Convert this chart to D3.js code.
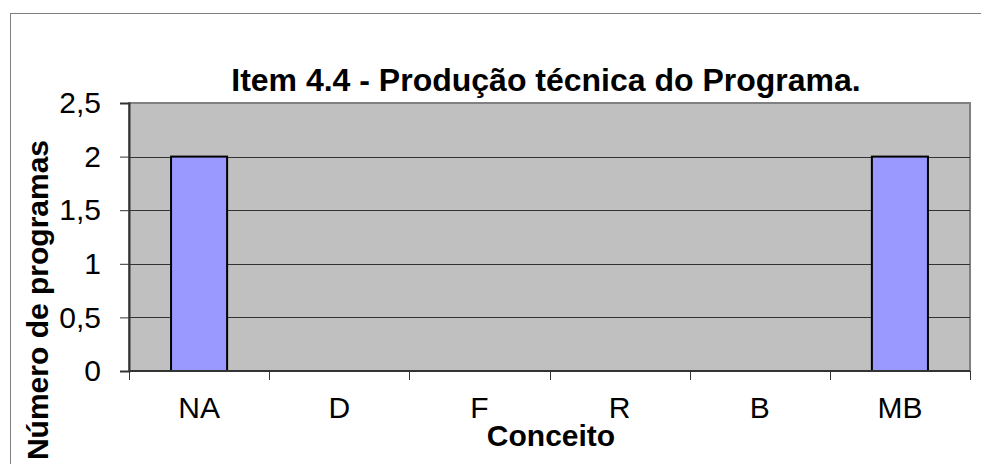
<!DOCTYPE html>
<html>
<head>
<meta charset="utf-8">
<script src="https://cdn.jsdelivr.net/npm/d3@7"></script>
<style>
  html, body { margin: 0; padding: 0; background: #fff; }
  svg { display: block; font-family: Arial, "Liberation Sans", sans-serif; }
</style>
</head>
<body>
<div id="chart"></div>
<script>
// data
const categories = ['NA', 'D', 'F', 'R', 'B', 'MB'];
const values = [2, 0, 0, 0, 0, 2];
const yTicks = [0, 0.5, 1, 1.5, 2, 2.5];
const titleText = 'Item 4.4 - Produção técnica do Programa.';
const xTitle = 'Conceito';
const yTitle = 'Número de programas';

const W = 981, H = 464;
const plot = { left: 129, top: 103, right: 970, bottom: 371 };

const svg = d3.select('#chart').append('svg')
    .attr('width', W)
    .attr('height', H);

// outer chart frame
svg.append('rect')
    .attr('x', 10.5).attr('y', 13.5)
    .attr('width', 980).attr('height', 470)
    .attr('fill', '#fff')
    .attr('stroke', '#7f7f7f')
    .attr('stroke-width', 1);

const x = d3.scaleBand()
    .domain(categories)
    .range([plot.left, plot.right])
    .paddingInner(0.6)
    .paddingOuter(0.3);

const xEdges = d3.scaleLinear()
    .domain([0, categories.length])
    .range([plot.left, plot.right]);

const y = d3.scaleLinear()
    .domain([0, 2.5])
    .range([plot.bottom, plot.top]);

const fmt = d => String(d).replace('.', ',');

// plot background
svg.append('rect')
    .attr('x', plot.left).attr('y', plot.top)
    .attr('width', plot.right - plot.left)
    .attr('height', plot.bottom - plot.top)
    .attr('fill', '#c0c0c0')
    .attr('stroke', '#808080')
    .attr('stroke-width', 2);

// gridlines
svg.append('g')
    .selectAll('line')
    .data(yTicks.filter(d => d > 0 && d < 2.5))
    .enter()
    .append('line')
    .attr('x1', plot.left).attr('x2', plot.right)
    .attr('y1', d => Math.round(y(d)) + 0.5)
    .attr('y2', d => Math.round(y(d)) + 0.5)
    .attr('stroke', '#333')
    .attr('stroke-width', 1);

// bars
svg.append('g')
    .selectAll('rect')
    .data(values.map((v, i) => ({ c: categories[i], v })).filter(d => d.v > 0))
    .enter()
    .append('rect')
    .attr('x', d => x(d.c))
    .attr('y', d => y(d.v))
    .attr('width', x.bandwidth())
    .attr('height', d => y(0) - y(d.v))
    .attr('fill', '#9999ff')
    .attr('stroke', '#000')
    .attr('stroke-width', 2);

// y axis
const yAxis = d3.axisLeft(y)
    .tickValues(yTicks)
    .tickFormat(fmt)
    .tickSize(9)
    .tickPadding(19);

const gy = svg.append('g')
    .attr('transform', `translate(${plot.left},0)`)
    .call(yAxis);
gy.select('.domain').attr('stroke', '#333').attr('stroke-width', 2);
gy.selectAll('.tick line').attr('stroke', '#333');
gy.selectAll('.tick text')
    .attr('font-size', 30)
    .attr('font-family', 'Arial, "Liberation Sans", sans-serif')
    .attr('fill', '#000');

// x axis: ticks at band edges
const gx = svg.append('g')
    .attr('transform', `translate(0,${plot.bottom})`);
gx.append('line')
    .attr('x1', plot.left).attr('x2', plot.right)
    .attr('stroke', '#333').attr('stroke-width', 2);
gx.selectAll('line.edge')
    .data(d3.range(categories.length + 1))
    .enter()
    .append('line')
    .attr('class', 'edge')
    .attr('x1', d => Math.round(xEdges(d)) + 0.5)
    .attr('x2', d => Math.round(xEdges(d)) + 0.5)
    .attr('y1', 0).attr('y2', 9)
    .attr('stroke', '#333');
gx.selectAll('text')
    .data(categories)
    .enter()
    .append('text')
    .attr('x', d => x(d) + x.bandwidth() / 2)
    .attr('y', 47)
    .attr('text-anchor', 'middle')
    .attr('font-size', 30)
    .attr('fill', '#000')
    .text(d => d);

// titles
svg.append('text')
    .attr('x', 546).attr('y', 91)
    .attr('text-anchor', 'middle')
    .attr('font-size', 32)
    .attr('font-weight', 'bold')
    .text(titleText);

svg.append('text')
    .attr('x', 551).attr('y', 446)
    .attr('text-anchor', 'middle')
    .attr('font-size', 30)
    .attr('font-weight', 'bold')
    .text(xTitle);

svg.append('text')
    .attr('transform', 'translate(48,300) rotate(-90)')
    .attr('text-anchor', 'middle')
    .attr('font-size', 30)
    .attr('font-weight', 'bold')
    .text(yTitle);
</script>
</body>
</html>
